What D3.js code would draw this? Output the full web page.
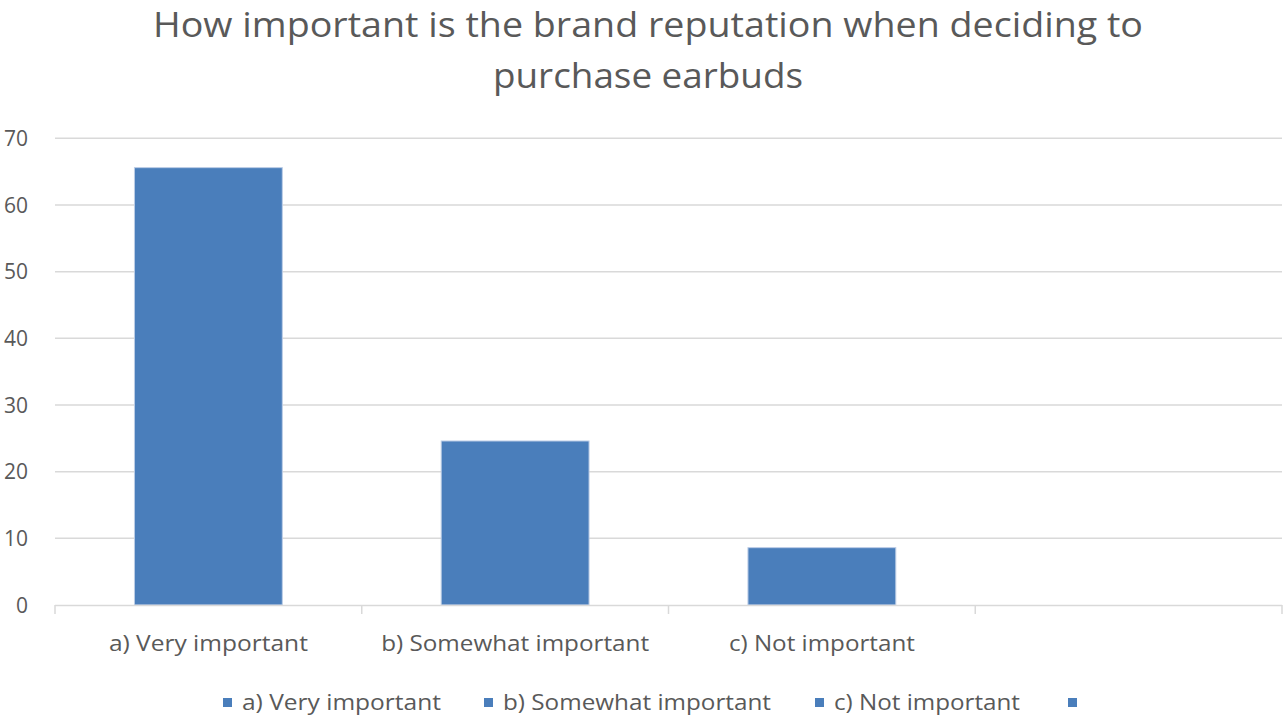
<!DOCTYPE html>
<html>
<head>
<meta charset="utf-8">
<script src="https://cdn.jsdelivr.net/npm/d3@7"></script>
<style>
  html, body { margin: 0; padding: 0; background: #ffffff; }
  svg { display: block; }
  text { font-family: "Open Sans", "Noto Sans", sans-serif; fill: #595959; }
</style>
</head>
<body>
<svg id="chart" width="1284" height="718"></svg>
<script>
// ---- data ----
const titleLines = ["How important is the brand reputation when deciding to", "purchase earbuds"];
const categories = ["a) Very important", "b) Somewhat important", "c) Not important", ""];
const values = [65.6, 24.6, 8.6, null];
const yTicks = [0, 10, 20, 30, 40, 50, 60, 70];
const legendLabels = ["a) Very important", "b) Somewhat important", "c) Not important", ""];

// ---- layout ----
const W = 1284, H = 718;
const plot = { left: 55, right: 1282, top: 138.3, bottom: 605 };
const barColor = "#4a7ebb";
const gridColor = "#d9d9d9";

const svg = d3.select("#chart");

const x = d3.scaleBand()
  .domain(categories.map((d, i) => i))
  .range([plot.left, plot.right])
  .paddingInner(0.518)
  .paddingOuter(0.259);

const xOuter = d3.scaleBand()
  .domain(categories.map((d, i) => i))
  .range([plot.left, plot.right]);

const y = d3.scaleLinear().domain([0, 70]).range([plot.bottom, plot.top]);

// gridlines
svg.append("g")
  .selectAll("line")
  .data(yTicks.filter(t => t !== 0))
  .join("line")
  .attr("x1", plot.left).attr("x2", plot.right)
  .attr("y1", d => y(d)).attr("y2", d => y(d))
  .attr("stroke", gridColor).attr("stroke-width", 1.5);

// y labels
svg.append("g")
  .selectAll("text")
  .data(yTicks)
  .join("text")
  .attr("x", 28)
  .attr("y", d => y(d))
  .attr("dy", "0.36em")
  .attr("text-anchor", "end")
  .attr("font-size", 21)
  .text(d => d);

// bars
svg.append("g")
  .selectAll("rect")
  .data(values.map((v, i) => ({ v, i })).filter(d => d.v != null))
  .join("rect")
  .attr("x", d => x(d.i))
  .attr("width", x.bandwidth())
  .attr("y", d => y(d.v))
  .attr("height", d => y(0) - y(d.v))
  .attr("fill", barColor)
  .attr("stroke", "#bccde6")
  .attr("stroke-width", 1);

// x axis line and ticks
const axisG = svg.append("g");
axisG.append("line")
  .attr("x1", plot.left).attr("x2", plot.right)
  .attr("y1", plot.bottom + 0.5).attr("y2", plot.bottom + 0.5)
  .attr("stroke", gridColor).attr("stroke-width", 1.5);
const boundaries = categories.map((d, i) => xOuter(i)).concat([plot.right]);
axisG.selectAll("line.tick")
  .data(boundaries)
  .join("line")
  .attr("class", "tick")
  .attr("x1", d => d).attr("x2", d => d)
  .attr("y1", plot.bottom).attr("y2", plot.bottom + 9)
  .attr("stroke", gridColor).attr("stroke-width", 1.5);

// x labels
const labelWidths = { "a) Very important": 199, "b) Somewhat important": 268, "c) Not important": 186 };
axisG.selectAll("text")
  .data(categories.map((c, i) => ({ c, i })).filter(d => d.c !== ""))
  .join("text")
  .attr("x", d => xOuter(d.i) + xOuter.bandwidth() / 2)
  .attr("y", 651)
  .attr("text-anchor", "middle")
  .attr("font-size", 22)
  .attr("textLength", d => labelWidths[d.c])
  .attr("lengthAdjust", "spacingAndGlyphs")
  .text(d => d.c);

// title
const titleWidths = [990, 310];
svg.append("g")
  .selectAll("text")
  .data(titleLines)
  .join("text")
  .attr("x", 648)
  .attr("y", (d, i) => 37 + i * 51)
  .attr("text-anchor", "middle")
  .attr("font-size", 34)
  .attr("textLength", (d, i) => titleWidths[i])
  .attr("lengthAdjust", "spacingAndGlyphs")
  .text(d => d);

// legend
const legendX = [223, 484, 815, 1068];
const leg = svg.append("g")
  .selectAll("g")
  .data(legendLabels)
  .join("g")
  .attr("transform", (d, i) => `translate(${legendX[i]},698)`);
leg.append("rect")
  .attr("width", 9).attr("height", 9)
  .attr("fill", barColor);
leg.filter(d => d !== "")
  .append("text")
  .attr("x", 19)
  .attr("y", 12)
  .attr("font-size", 22)
  .attr("textLength", d => labelWidths[d])
  .attr("lengthAdjust", "spacingAndGlyphs")
  .text(d => d);
</script>
</body>
</html>
